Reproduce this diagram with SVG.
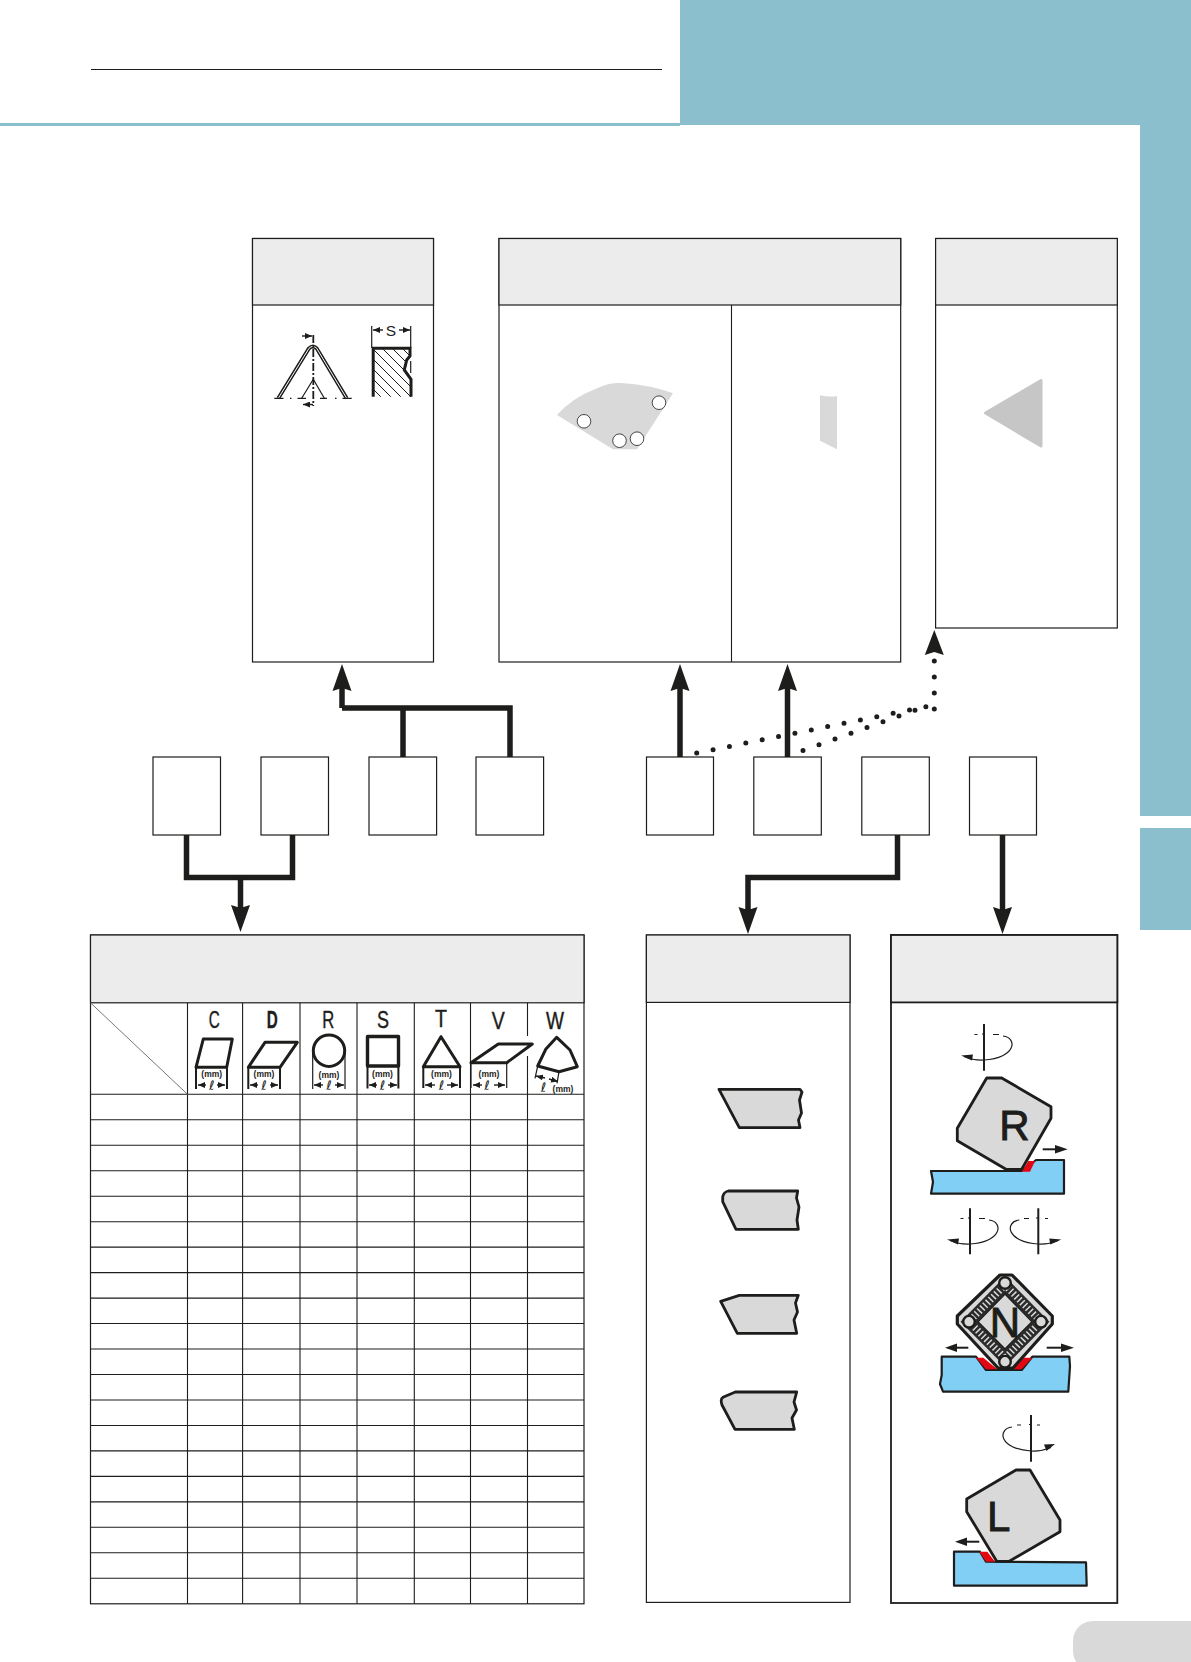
<svg xmlns="http://www.w3.org/2000/svg" width="1191" height="1662" viewBox="0 0 1191 1662">
<style>
.box{fill:#fff;stroke:#1d1d1b;stroke-width:1.2}
.hd{fill:#ececec;stroke:#1d1d1b;stroke-width:1.2}
.thin{fill:none;stroke:#1d1d1b;stroke-width:1.1}
.conn{fill:none;stroke:#1d1d1b;stroke-width:5.5}
.dot{fill:none;stroke:#1d1d1b;stroke-width:5;stroke-linecap:round;stroke-dasharray:0 16.7}
.ic{fill:#fff;stroke:#1d1d1b;stroke-width:3;stroke-linejoin:round}
.dim{fill:none;stroke:#1d1d1b;stroke-width:1.2}
.tick{fill:none;stroke:#1d1d1b;stroke-width:2}
.ar{fill:none;stroke:#1d1d1b;stroke-width:1.4;marker-end:url(#sm)}
.sec{fill:#d9d9d9;stroke:#1d1d1b;stroke-width:2.8;stroke-linejoin:round}
.wp{fill:#82cff5;stroke:#1d1d1b;stroke-width:2.2;stroke-linejoin:round}
.red{fill:#e30613}
.L{font-family:"Liberation Sans",Arial,sans-serif;fill:#1d1d1b;text-anchor:middle}
.big{font-size:42px;stroke:#1d1d1b;stroke-width:.9}
.let{font-size:23px;stroke:#1d1d1b;stroke-width:.4}
.mm{font-size:8.500px;font-weight:bold}
.ell{font-family:"DejaVu Sans",sans-serif;font-size:13px;font-style:italic;fill:#1d1d1b;text-anchor:middle}
</style>
<defs>
<marker id="hd" markerUnits="userSpaceOnUse" markerWidth="28" markerHeight="20" refX="17" refY="10" orient="auto"><path d="M0 .5L27 10 0 19.500L3 10Z" fill="#1d1d1b"/></marker>
<marker id="sm" markerUnits="userSpaceOnUse" markerWidth="8" markerHeight="6" refX="7" refY="3" orient="auto"><path d="M0 0L7 3 0 6Z" fill="#1d1d1b"/></marker>
<clipPath id="hc"><path d="M372 348.300H410L410 356 406.700 360 404.300 370 411.700 379.300V396.700H372Z"/></clipPath>
</defs>
<rect id="page-band" x="680" y="0" width="511" height="125" fill="#8bbfcd"/>
<rect x="1140" y="125" width="51" height="691" fill="#8bbfcd"/>
<rect x="1140" y="828" width="51" height="102" fill="#8bbfcd"/>
<rect x="0" y="123" width="680" height="3" fill="#8bbfcd"/>
<line x1="91" y1="69.500" x2="662" y2="69.500" stroke="#1d1d1b" stroke-width="1"/>
<rect x="1073" y="1621" width="140" height="50" rx="20" fill="#d9d9d9"/>

<g id="connectors">
<path class="conn" d="M342 708V674" marker-end="url(#hd)"/>
<path class="conn" d="M342 708H510V757M403 708V757"/>
<path class="conn" d="M680 757V674" marker-end="url(#hd)"/>
<path class="conn" d="M787.500 757V674" marker-end="url(#hd)"/>
<path class="conn" d="M186.500 835V877.500H292.500V835"/>
<path class="conn" d="M240.500 877.500V922" marker-end="url(#hd)"/>
<path class="conn" d="M897.500 835V877.500H748V924" marker-end="url(#hd)"/>
<path class="conn" d="M1002.500 835V924" marker-end="url(#hd)"/>
<path class="dot" d="M696.700 753L930.600 705.800"/>
<path class="dot" style="stroke-dasharray:0 17" d="M803 750.600L916 710"/>
<circle cx="934.300" cy="709" r="2.500" fill="#1d1d1b"/>
<circle cx="934.300" cy="693" r="2.500" fill="#1d1d1b"/>
<circle cx="934.300" cy="677" r="2.500" fill="#1d1d1b"/>
<circle cx="934.300" cy="661" r="2.500" fill="#1d1d1b"/>
<path d="M934.300 630L943.800 655 934.300 652 924.800 655Z" fill="#1d1d1b"/>
</g>

<g id="node-box-a">
<rect class="box" x="252.500" y="238.500" width="181" height="423.500"/>
<rect class="hd" x="252.500" y="238.500" width="181" height="66.500"/>
<path d="M278.300 398.300L309 348.300Q313 344.500 316.700 348.300L346.700 398.300" fill="none" stroke="#1d1d1b" stroke-width="3.800"/>
<path d="M278.300 398.300L309 348.300Q313 344.500 316.700 348.300L346.700 398.300" fill="none" stroke="#fff" stroke-width="1"/>
<path class="dim" d="M274.300 398.300H283.500M290 398.300h1.500M297.500 398.300H306M320 398.300H327M335 398.300h1.500M342.500 398.300H351.700"/>
<path d="M313.300 335V406" fill="none" stroke="#1d1d1b" stroke-width="1.800" stroke-dasharray="8 2 2 2"/>
<path class="dim" d="M313.300 379.300L301.700 398.300M313.300 379.300L324.300 398.300"/>
<path class="ar" d="M302 336H312"/>
<path class="ar" d="M313 404.500H303"/>
<path d="M372 348.300H410L410 356 406.700 360 404.300 370 411.700 379.300V396.700H372Z" fill="#fff"/>
<g clip-path="url(#hc)" stroke="#1d1d1b" stroke-width="1"><path d="M332 348L382 398M342 348L392 398M352 348L402 398M362 348L412 398M372 348L422 398M382 348L432 398M392 348L442 398M402 348L452 398"/></g>
<path d="M373.200 396.700V348.300H410L410 356 406.700 360 404.300 370 411 379.300V396.700" fill="none" stroke="#1d1d1b" stroke-width="3"/>
<path class="dim" d="M371.700 326V348M410.700 326V348M410.700 361V373"/>
<path class="ar" d="M383 330H373"/>
<path class="ar" d="M399 330H410"/>
<text class="L" x="391" y="336" font-size="15.500">S</text>
</g>

<g id="node-box-b">
<rect class="box" x="499" y="238.500" width="401.700" height="423.500"/>
<rect class="hd" x="499" y="238.500" width="401.700" height="66.500"/>
<line class="thin" x1="731.500" y1="305" x2="731.500" y2="662"/>
<path d="M557 415Q572 398 597 388.300Q610 382 624 383.300Q650 385 673 393.300L637 449.300H613Z" fill="#d9d9d9"/>
<g fill="#fff" stroke="#1d1d1b" stroke-width=".8">
<circle cx="584" cy="421.300" r="6.800"/><circle cx="659" cy="402.700" r="6.800"/><circle cx="619.500" cy="440.700" r="6.800"/><circle cx="637" cy="438.700" r="6.800"/>
</g>
<path d="M820 395.300Q829 397.500 837 396V449.300L820 440.700Z" fill="#d9d9d9"/>
</g>

<g id="node-box-c">
<rect class="box" x="935.600" y="238.500" width="181.700" height="389.500"/>
<rect class="hd" x="935.600" y="238.500" width="181.700" height="66.500"/>
<path d="M985.500 413L1041 380.500V446Z" fill="#c6c6c6" stroke="#c6c6c6" stroke-width="3" stroke-linejoin="round"/>
</g>

<g id="node-q1"><rect class="box" x="153" y="757" width="67.500" height="78"/></g>
<g id="node-q2"><rect class="box" x="261" y="757" width="67.500" height="78"/></g>
<g id="node-q3"><rect class="box" x="369" y="757" width="67.600" height="78"/></g>
<g id="node-q4"><rect class="box" x="476" y="757" width="67.600" height="78"/></g>
<g id="node-q5"><rect class="box" x="646.500" y="757" width="67" height="78"/></g>
<g id="node-q6"><rect class="box" x="753.800" y="757" width="67.500" height="78"/></g>
<g id="node-q7"><rect class="box" x="861.800" y="757" width="67.500" height="78"/></g>
<g id="node-q8"><rect class="box" x="969.500" y="757" width="67" height="78"/></g>

<g id="node-table">
<rect class="box" x="90.500" y="935" width="493.500" height="668.800"/>
<rect class="hd" x="90.500" y="935" width="493.500" height="67.800"/>
<path class="thin" d="M187.500 1002.800V1603.800M242.600 1002.800V1603.800M300 1002.800V1603.800M357 1002.800V1603.800M414.300 1002.800V1603.800M470.500 1002.800V1603.800M527.500 1002.800V1603.800"/>
<path class="thin" d="M90 1094.300H584M90 1119.800H584M90 1145.200H584M90 1170.700H584M90 1196.200H584M90 1221.700H584M90 1247.100H584M90 1272.600H584M90 1298.100H584M90 1323.500H584M90 1349H584M90 1374.500H584M90 1400H584M90 1425.500H584M90 1450.900H584M90 1476.400H584M90 1501.900H584M90 1527.300H584M90 1552.800H584M90 1578.300H584"/>
<line x1="90.500" y1="1002.800" x2="187.500" y2="1094.300" stroke="#777" stroke-width="1"/>
<g id="icon-C">
<text class="L let" x="214.300" y="1028" textLength="11" lengthAdjust="spacingAndGlyphs">C</text>
<path class="ic" d="M196 1067.300L203.300 1039H232.300L226.700 1067.300Z"/>
<path class="tick" d="M196 1067.300V1089M227 1067.300V1089"/>
<text class="L mm" x="211.700" y="1076.500">(mm)</text>
<path class="ar" d="M206 1085H198"/><path class="ar" d="M217 1085H225"/>
<text class="ell" x="211.700" y="1090">ℓ</text>
</g>
<g id="icon-D">
<text class="L let" x="272.300" y="1028" textLength="11" lengthAdjust="spacingAndGlyphs" font-weight="bold">D</text>
<path class="ic" d="M248.300 1067.300L265 1042.300H297.300L280 1067.300Z"/>
<path class="tick" d="M248.300 1067.300V1089M280 1067.300V1089"/>
<text class="L mm" x="264" y="1076.500">(mm)</text>
<path class="ar" d="M258 1085H250"/><path class="ar" d="M270 1085H278"/>
<text class="ell" x="264" y="1090">ℓ</text>
</g>
<g id="icon-R">
<text class="L let" x="328.300" y="1028" textLength="12" lengthAdjust="spacingAndGlyphs">R</text>
<circle class="ic" cx="329" cy="1050.700" r="15.700"/>
<path class="dim" d="M312.700 1052V1089M345 1052V1089"/>
<text class="L mm" x="329" y="1077.500">(mm)</text>
<path class="ar" d="M323 1085H314"/><path class="ar" d="M335 1085H344"/>
<text class="ell" x="329" y="1090">ℓ</text>
</g>
<g id="icon-S">
<text class="L let" x="383" y="1028" textLength="12" lengthAdjust="spacingAndGlyphs">S</text>
<rect class="ic" x="367.500" y="1036.500" width="31" height="29.500" style="stroke-width:3.400"/>
<path class="tick" d="M367.500 1066V1088.500M398.400 1066V1088.500"/>
<text class="L mm" x="382.500" y="1076.500">(mm)</text>
<path class="ar" d="M377 1085H369"/><path class="ar" d="M388 1085H397"/>
<text class="ell" x="382.500" y="1090">ℓ</text>
</g>
<g id="icon-T">
<text class="L let" x="441" y="1027" textLength="12" lengthAdjust="spacingAndGlyphs">T</text>
<path class="ic" d="M441 1036.700L423.300 1066.700H460Z"/>
<path class="tick" d="M423.300 1066.700V1088M460 1066.700V1088"/>
<text class="L mm" x="441.500" y="1076.500">(mm)</text>
<path class="ar" d="M435 1085H425"/><path class="ar" d="M447 1085H458"/>
<text class="ell" x="441.500" y="1090">ℓ</text>
</g>
<g id="icon-V">
<text class="L let" x="498.300" y="1029" textLength="13" lengthAdjust="spacingAndGlyphs">V</text>
<rect x="526" y="1036" width="3" height="20" fill="#fff"/>
<path class="ic" d="M471 1062.700L498.300 1044H532.300L506.700 1062.700Z"/>
<path class="dim" d="M471 1062.700V1088M506.700 1062.700V1088"/>
<text class="L mm" x="489" y="1076.500">(mm)</text>
<path class="ar" d="M482 1085H473"/><path class="ar" d="M494 1085H505"/>
<text class="ell" x="487" y="1090">ℓ</text>
</g>
<g id="icon-W">
<text class="L let" x="555" y="1029" textLength="18" lengthAdjust="spacingAndGlyphs">W</text>
<path class="ic" d="M556.700 1037.300L570 1050 577.300 1066.700 559 1071.700 537.700 1066 545.700 1049.300Z"/>
<path class="dim" d="M537.700 1066L535 1078.300M559 1071.700L557 1083.300"/>
<path class="ar" d="M545 1078L536 1076"/><path class="ar" d="M549 1079L558 1081.500"/>
<text class="ell" x="543.500" y="1092">ℓ</text>
<text class="L mm" x="563" y="1092">(mm)</text>
</g>
</g>

<g id="node-sections">
<rect class="box" x="646.400" y="935" width="203.600" height="667.400"/>
<rect class="hd" x="646.400" y="935" width="203.600" height="67.400"/>
<path class="sec" d="M719 1089.300H800L802 1092 799.500 1100 801.500 1113 798.500 1120 800 1127.700H739.300Z"/>
<path class="sec" d="M728.300 1191H797.700L796.500 1198 799 1207 797 1220 798.300 1229.300H736L722.700 1201.700V1197Q723.500 1192 728.300 1191Z"/>
<path class="sec" d="M739.300 1295.300H798.300L795.500 1303 797.500 1312 794 1320 796.700 1333.300H737.300L720.700 1301.300Z"/>
<path class="sec" d="M735.300 1392H796.700L794 1402 796.500 1410 792 1418 794.300 1429.300H735L722 1405Q720 1399 723 1397.300Z"/>
</g>

<g id="node-operations">
<rect class="box" x="891" y="935" width="226.300" height="668" style="stroke-width:1.800"/>
<rect class="hd" x="891" y="935" width="226.300" height="67.400" style="stroke-width:1.800"/>

<g id="op-R">
<path d="M984 1024V1070.700" class="tick"/>
<path class="dim" d="M1003 1036C1018 1038 1016 1058 984 1060C975 1060.500 970 1059 964 1056.500"/>
<path class="dim" d="M974.500 1034.500h3M982 1034h3M993 1034.500h6"/>
<path d="M961 1055.500L973 1054.500 972 1060.500Z" fill="#1d1d1b"/>
<path class="wp" d="M931 1171H1021.700L1036 1160H1064V1193.700H931L933 1182Z"/>
<path class="red" d="M1028.300 1161H1035L1030 1171.700H1021.700Z"/>
<path class="sec" d="M986.700 1078H1001.700L1051 1106.700V1118.300L1021.700 1169.300H1006L957.300 1140.700V1128.300Z"/>
<text class="L big" x="1014.300" y="1140">R</text>
<path class="tick" d="M1042.700 1149.300H1060"/>
<path d="M1055 1145L1067.700 1149.300 1055 1153.500Z" fill="#1d1d1b"/>
</g>

<g id="op-N">
<path class="tick" d="M970 1208.300V1254.300M1038.300 1208.300V1254.300"/>
<path class="dim" d="M989 1220C1004 1222 1002 1242 970 1244C961 1244.500 956 1243 950 1240.500"/>
<path class="dim" d="M960.500 1218.500h3M968 1218h3M979 1218.500h6"/>
<path d="M947 1239.500L959 1238.500 958 1244.500Z" fill="#1d1d1b"/>
<path class="dim" d="M1019.300 1220C1004.300 1222 1006.300 1242 1038.300 1244C1047.300 1244.500 1052.300 1243 1058.300 1240.500"/>
<path class="dim" d="M1036 1218h3M1045 1218.500h3M1024 1218.500h5"/>
<path d="M1061.300 1239.500L1049.300 1238.500 1050.300 1244.500Z" fill="#1d1d1b"/>
<path class="wp" d="M941.700 1356.700H976L986 1370H1021.700L1032.300 1356.700H1069.300L1070 1366 1068.300 1391.700H943L940 1384 941.700 1375Z"/>
<path class="red" d="M976 1357.700H983.300L997.300 1369.300H986ZM1032.300 1357.700H1024L1012.700 1369.300H1021.700Z"/>
<path class="sec" d="M1000 1275H1012L1052.300 1316V1324L1013 1368H998L957.300 1324V1316Z" style="stroke-width:3.200"/>
<path d="M1005 1285L1041 1321.700 1005 1358 969 1321.700Z" fill="none" stroke="#2b2b2b" stroke-width="12"/>
<path d="M1005 1285L1041 1321.700 1005 1358 969 1321.700Z" fill="none" stroke="#d9d9d9" stroke-width="7" stroke-dasharray="1.500 2.500"/>
<path d="M1005 1294L1032 1321.700 1005 1349 978 1321.700Z" fill="#d9d9d9" stroke="#1d1d1b" stroke-width="1.500"/>
<g fill="#d9d9d9" stroke="#1d1d1b" stroke-width="2.400">
<circle cx="1005" cy="1283" r="5.800"/><circle cx="1041" cy="1321.700" r="5.800"/><circle cx="1005" cy="1361.700" r="5.800"/><circle cx="969" cy="1321.700" r="5.800"/>
</g>
<text class="L big" x="1005" y="1336.700">N</text>
<path class="tick" d="M968.300 1347.700H950"/>
<path d="M957 1343.500L945 1347.700 957 1352Z" fill="#1d1d1b"/>
<path class="tick" d="M1046.700 1347.700H1066"/>
<path d="M1061 1343.500L1074 1347.700 1061 1352Z" fill="#1d1d1b"/>
</g>

<g id="op-L">
<path class="tick" d="M1031 1415V1461.700"/>
<path class="dim" d="M1012 1427C997 1429 999 1449 1031 1451C1040 1451.500 1045 1450 1051 1447.500"/>
<path class="dim" d="M1017 1425h4M1029 1424.500h3M1037 1425h3"/>
<path d="M1055 1444L1044 1444.500 1046.500 1451Z" fill="#1d1d1b"/>
<path class="wp" d="M954 1551.700H980L986 1561.700 1086 1562.300 1086.700 1585.700H954Z"/>
<path class="red" d="M979.300 1551.700H987.300L995 1561.700H986Z"/>
<path class="sec" d="M1016 1470H1030L1060 1520V1531.700L1009.300 1561.300H996.700L966.700 1511.700V1499Z"/>
<text class="L big" x="998.700" y="1530.700">L</text>
<path class="tick" d="M979.300 1541.700H960"/>
<path d="M967 1537.500L955 1541.700 967 1546Z" fill="#1d1d1b"/>
</g>
</g>
</svg>
